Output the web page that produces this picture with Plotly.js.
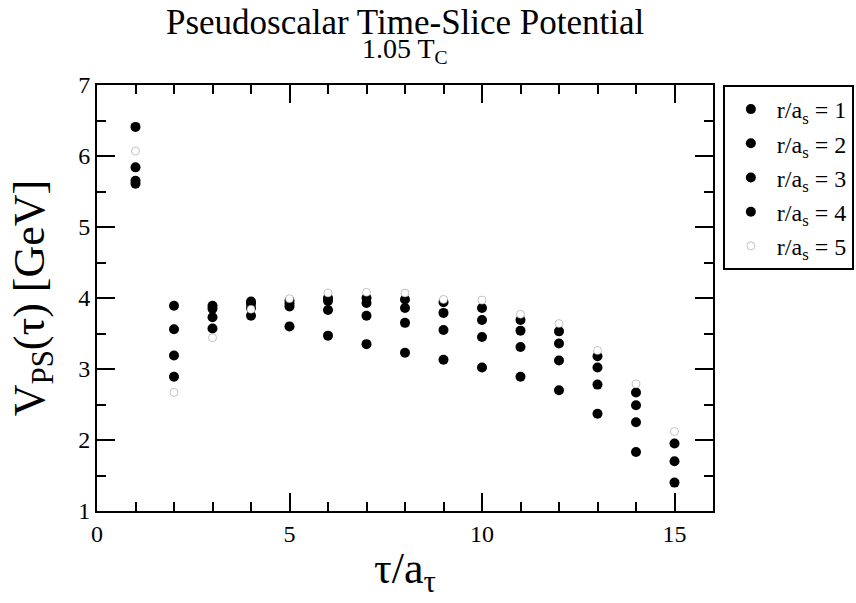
<!DOCTYPE html>
<html>
<head>
<meta charset="utf-8">
<script src="https://cdn.plot.ly/plotly-3.0.1.min.js"></script>
<style>html,body{margin:0;padding:0;background:#fff;}#chart{width:856px;height:603px;}</style>
</head>
<body>
<div id="chart"></div>
<script>
const tau = [1, 2, 3, 4, 5, 6, 7, 8, 9, 10, 11, 12, 13, 14, 15];
const r1 = [5.61, 2.89, 3.57, 3.75, 3.60, 3.47, 3.35, 3.23, 3.13, 3.02, 2.89, 2.70, 2.37, 1.83, 1.40];
const r2 = [5.65, 3.19, 3.73, 3.86, 3.88, 3.83, 3.75, 3.65, 3.55, 3.45, 3.31, 3.12, 2.78, 2.25, 1.70];
const r3 = [5.84, 3.56, 3.85, 3.92, 3.92, 3.96, 3.93, 3.86, 3.79, 3.69, 3.54, 3.36, 3.02, 2.49, 1.95];
const r4 = [6.41, 3.89, 3.89, 3.95, 3.96, 4.00, 4.00, 3.98, 3.94, 3.86, 3.69, 3.53, 3.18, 2.67, null];
const r5 = [6.07, 2.67, 3.44, 3.84, 3.99, 4.07, 4.08, 4.07, 3.98, 3.97, 3.77, 3.64, 3.26, 2.79, 2.12];
const seriesNames = ['r/a<sub>s</sub> = 1', 'r/a<sub>s</sub> = 2', 'r/a<sub>s</sub> = 3', 'r/a<sub>s</sub> = 4', 'r/a<sub>s</sub> = 5'];
const xTickVals = [0, 5, 10, 15];
const xTickText = ['0', '5', '10', '15'];

const FONT = 'Liberation Serif, Times New Roman, serif';
const dot = {symbol: 'circle', size: 10, color: '#000', line: {width: 0}};
const ring = {symbol: 'circle', size: 8, color: '#fff', line: {width: 0.5, color: '#888'}};

const series = [r1, r2, r3, r4, r5];
const traces = series.map((ys, i) => ({
  x: tau, y: ys, type: 'scatter', mode: 'markers', name: seriesNames[i],
  marker: i < 4 ? dot : ring, cliponaxis: false
}));

const axisCommon = {
  showline: true, linecolor: '#000', linewidth: 2, mirror: 'allticks',
  ticks: 'inside', tickcolor: '#000', tickwidth: 2, ticklen: 18,
  showgrid: false, zeroline: false,
  tickfont: {family: FONT, size: 24, color: '#000'}
};

const layout = {
  width: 856, height: 603,
  margin: {l: 97, r: 143, t: 85, b: 92, autoexpand: false},
  paper_bgcolor: '#fff', plot_bgcolor: '#fff',
  font: {family: FONT, color: '#000'},
  xaxis: Object.assign({}, axisCommon, {
    range: [0, 16], tickvals: xTickVals, ticktext: xTickText,
    minor: {dtick: 1, tick0: 0, ticks: 'inside', ticklen: 9, tickwidth: 2, tickcolor: '#000', showgrid: false},
    title: {text: 'τ/a<sub>τ</sub>', font: {family: FONT, size: 44, color: '#000'}, standoff: 6}
  }),
  yaxis: Object.assign({}, axisCommon, {
    range: [1, 7], dtick: 1, tick0: 1,
    minor: {dtick: 0.5, tick0: 1, ticks: 'inside', ticklen: 9, tickwidth: 2, tickcolor: '#000', showgrid: false},
    title: {text: 'V<sub>PS</sub>(τ) [GeV]', font: {family: FONT, size: 44, color: '#000'}, standoff: 20}
  }),
  annotations: [
    {text: 'Pseudoscalar Time-Slice Potential', xref: 'paper', yref: 'paper', x: 0.5, y: 1.147,
     xanchor: 'center', yanchor: 'middle', showarrow: false, font: {family: FONT, size: 35, color: '#000'}},
    {text: '1.05 T<sub>C</sub>', xref: 'paper', yref: 'paper', x: 0.5, y: 1.08,
     xanchor: 'center', yanchor: 'middle', showarrow: false, font: {family: FONT, size: 28, color: '#000'}}
  ],
  legend: {
    x: 1.016, xanchor: 'left', y: 1.0, yanchor: 'top',
    bordercolor: '#000', borderwidth: 2, bgcolor: '#fff',
    font: {family: FONT, size: 24, color: '#000'},
    tracegroupgap: 0, itemwidth: 42
  },
  showlegend: true
};

Plotly.newPlot('chart', traces, layout, {displayModeBar: false, staticPlot: true});
</script>
</body>
</html>
